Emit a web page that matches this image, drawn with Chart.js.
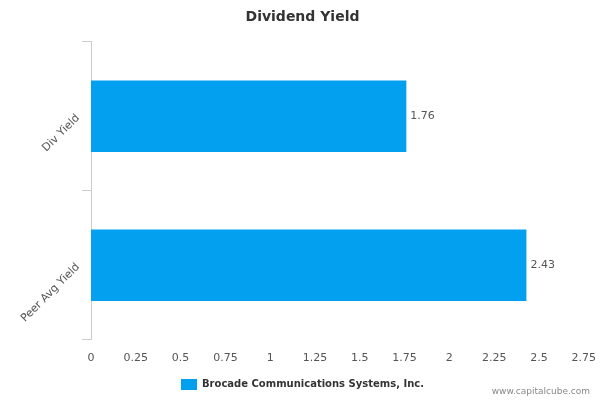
<!DOCTYPE html>
<html>
<head>
<meta charset="utf-8">
<script src="https://cdn.jsdelivr.net/npm/chart.js@4"></script>
<style>
  html, body { margin: 0; padding: 0; background: #fff; }
  #wrap { width: 600px; height: 400px; }
</style>
</head>
<body>
<div id="wrap"><canvas id="c" width="600" height="400"></canvas></div>
<script>
// chart data
const categories = ["Div Yield", "Peer Avg Yield"];
const yieldValues = [1.76, 2.43];
const seriesName = "Brocade Communications Systems, Inc.";
const xTicks = [0, 0.25, 0.5, 0.75, 1, 1.25, 1.5, 1.75, 2, 2.25, 2.5, 2.75];

const FONT = "'DejaVu Sans', sans-serif";

// value labels at bar ends + site credit
const extras = {
  id: "extras",
  afterDatasetsDraw(chart) {
    const ctx = chart.ctx;
    const meta = chart.getDatasetMeta(0);
    ctx.save();
    ctx.font = "11px " + FONT;
    ctx.fillStyle = "#555";
    ctx.textBaseline = "middle";
    meta.data.forEach((bar, i) => {
      ctx.fillText(String(yieldValues[i]), bar.x + 4, bar.y);
    });
    ctx.font = "9px " + FONT;
    ctx.fillStyle = "#888";
    ctx.textAlign = "right";
    ctx.fillText("www.capitalcube.com", 590, 392);
    ctx.restore();
  }
};

new Chart(document.getElementById("c"), {
  type: "bar",
  data: {
    labels: categories,
    datasets: [{
      label: seriesName,
      data: yieldValues,
      backgroundColor: "#03a0ef",
      barPercentage: 0.48,
      categoryPercentage: 1
    }]
  },
  options: {
    indexAxis: "y",
    responsive: false,
    animation: false,
    layout: { padding: { left: 8, right: 3, top: 0, bottom: 0 } },
    plugins: {
      title: {
        display: true,
        text: "Dividend Yield",
        color: "#333",
        font: { family: FONT, size: 14, weight: "bold" },
        padding: { top: 9, bottom: 16 }
      },
      legend: {
        position: "bottom",
        labels: {
          color: "#333",
          font: { family: FONT, size: 10, weight: "bold" },
          boxWidth: 16,
          boxHeight: 11,
          padding: 10
        }
      },
      tooltip: { enabled: false }
    },
    scales: {
      x: {
        min: 0,
        max: 2.75,
        afterBuildTicks(axis) { axis.ticks = xTicks.map(v => ({ value: v })); },
        border: { display: false },
        grid: { display: false },
        ticks: {
          color: "#555",
          font: { family: FONT, size: 11 },
          padding: 4,
          callback: v => String(v)
        }
      },
      y: {
        border: { display: true, color: "#ccc" },
        grid: {
          offset: true,
          drawOnChartArea: false,
          drawTicks: true,
          tickLength: 9,
          color: "#ccc"
        },
        ticks: {
          color: "#555",
          font: { family: FONT, size: 11 },
          minRotation: 45,
          maxRotation: 45,
          padding: 4
        },
        afterFit(axis) { axis.width = 83; }
      }
    }
  },
  plugins: [extras]
});
</script>
</body>
</html>
